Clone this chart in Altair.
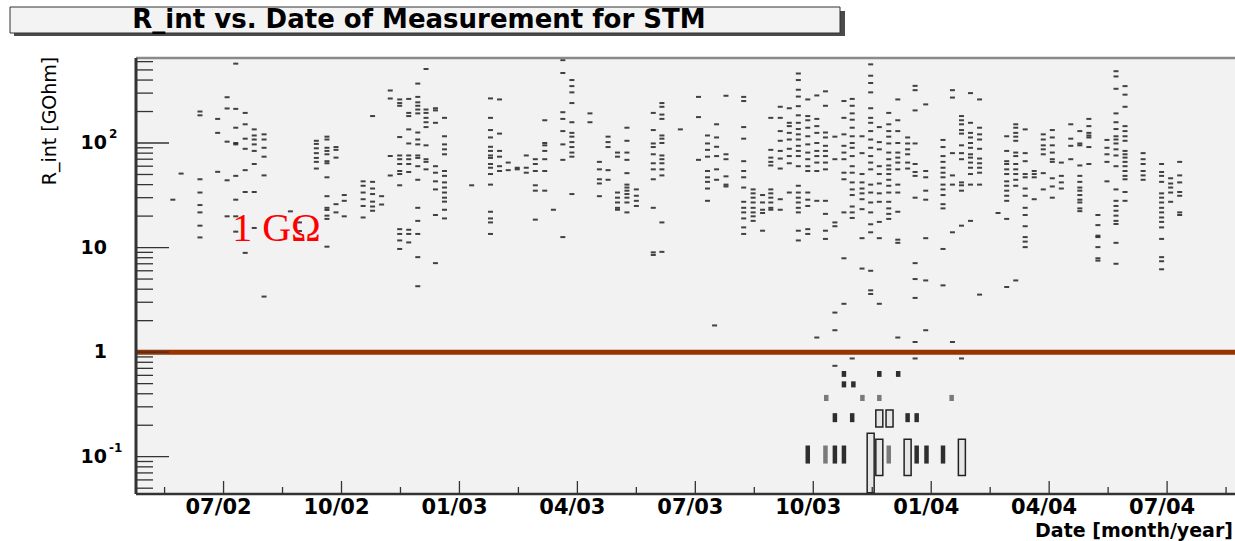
import altair as alt
import pandas as pd

# ---------------- data ----------------
# month index: 0 = Jan 2002 ; values in GOhm
col_month = [4.71, 4.92, 5.40, 5.85, 6.09, 6.31, 6.55, 6.78, 7.03, 7.70, 7.93, 8.36, 8.63, 8.86, 9.07,
             9.55, 9.79, 10.02, 10.24, 10.48, 10.71, 10.94, 11.15, 11.39, 11.62, 12.31, 12.79, 13.02,
             13.24, 13.47, 13.70, 13.93, 14.17, 14.39, 14.63, 14.86, 15.32, 15.56, 15.78, 16.02, 16.26,
             16.50, 16.93, 17.15, 17.62, 18.08, 18.31, 18.49, 18.54, 18.78, 19.23, 19.47, 19.71, 19.92,
             20.16, 20.39, 20.62, 20.86, 21.09, 21.31, 21.55, 21.78, 21.99, 22.24, 22.46, 22.68, 22.92,
             23.15, 23.40, 23.59, 23.86, 24.30, 24.54, 24.77, 25.00, 25.23, 25.70, 25.92, 26.15, 26.39,
             26.62, 26.85, 27.08, 27.31, 27.55, 27.78, 28.01, 28.24, 28.47, 28.70, 28.93, 29.39, 29.86,
             30.09, 30.32]
col_values = [
    [28.7], [51],
    [200, 184, 45, 33.6, 25.5, 21.7, 16.2, 12.5],
    [170, 125, 53],
    [274, 214, 103, 44, 19.9],
    [574, 212, 140, 100, 97, 48.5, 28.7, 19.9, 14.2],
    [194, 151, 110, 88, 55, 34, 8.9],
    [135, 118, 108, 97, 84, 63, 34, 15.4],
    [121, 108, 90, 74, 49, 3.4],
    [22.2],
    [17.4, 14.4],
    [105, 98, 89, 80, 72, 66, 57],
    [115, 108, 90, 84, 78, 67, 64, 47, 31, 24, 22.9, 20.2, 18.8, 10.2],
    [91.5, 86, 72.5, 26, 21.7],
    [31.8, 28, 19.9],
    [43, 39, 33.6, 29, 25, 19.4],
    [181, 42.5, 36.7, 32.5, 27.5, 24.7, 22.5],
    [31, 25.8],
    [318, 267, 75, 49],
    [261, 241, 227, 114, 76, 70, 63, 54, 50.5, 39.4, 15, 13.5, 11.7, 9.7],
    [264, 194, 181, 135, 99, 76, 70, 63, 52.8, 14.8, 13.5, 11.2],
    [370, 276, 245, 227, 209, 192, 126, 108, 97, 76, 72, 60, 44.5, 24, 18, 13.5, 8.1, 4.27],
    [510, 209, 194, 174, 158, 142, 95, 70, 66, 56],
    [215, 205, 156, 60, 52, 43, 36, 20.5, 7.1],
    [174, 116, 97, 87, 78, 54, 48.5, 42, 37.5, 33.6, 30, 27.5, 23, 19],
    [39.4],
    [267, 174, 133, 113, 92, 84, 76, 72, 63, 58, 50.5, 40, 22, 19, 17.4, 13.5],
    [261, 123, 84, 74, 60, 54],
    [65, 55],
    [58, 56],
    [76, 58, 52],
    [70, 63, 54, 39.4, 35, 18.5],
    [165, 100, 95, 84, 70, 54, 35],
    [23],
    [620, 467, 197, 170, 130, 97, 69, 12.6],
    [400, 350, 305, 241, 158, 125, 115, 102, 91.5, 81, 74, 32.5],
    [192, 158],
    [66, 56, 45, 41, 31],
    [115, 102, 91.5, 55, 44.5],
    [81, 74, 33.6, 30, 27, 24, 23],
    [140, 105, 81, 69, 51.5, 40, 37.5, 35, 32.5, 30, 27, 21.7],
    [36, 31.3, 28, 25],
    [194, 133, 99, 91.5, 78, 64, 56, 45, 24, 9, 8.5],
    [241, 222, 187, 170, 118, 110, 100, 76, 70, 64, 56, 49, 17.4, 9.1],
    [135],
    [276, 177, 69],
    [118, 99, 86, 74, 54, 47, 42.5, 36.7, 28],
    [1.8],
    [151, 113, 92, 75, 56, 44.5],
    [283, 78, 70, 48, 40, 38.4],
    [276, 252, 142, 110, 67, 54, 47, 37.5, 27.4, 24, 21.7, 19, 15.6, 13.5],
    [36, 33, 30, 27, 24, 21.7, 19.9, 18],
    [31.8, 27, 23, 21.4, 14.5],
    [174, 86, 72.5, 66, 61, 36, 33, 30, 27, 24, 23],
    [222, 174, 130, 105, 84, 71, 57, 29, 23],
    [215, 156, 145, 125, 108, 88, 75, 64, 33.6],
    [462, 400, 323, 278, 225, 184, 156, 136, 121, 108, 94, 84, 75, 60, 39, 33.6, 30, 27, 24, 21.7, 14.5, 11.7],
    [261, 181, 165, 140, 116, 97, 81, 70, 60, 54, 33.6, 28.7, 25, 15, 13.5],
    [285, 170, 145, 125, 100, 84, 75, 65, 54, 28, 1.38],
    [312, 227, 126, 113, 94, 84, 75, 65, 56, 28, 21, 14.5, 12.1],
    [115, 70, 17.4, 16, 2.39, 1.62, 0.74],
    [252, 174, 121, 94, 81, 70, 52, 45, 21.7, 7.9, 2.9],
    [264, 227, 192, 167, 140, 116, 100, 90, 75, 60, 52, 42, 36, 31.8, 24.7, 21.7, 19.2, 0.87],
    [116, 80, 50.5, 42, 36.7, 33, 29, 23.3, 12.3, 6.3],
    [565, 440, 375, 305, 215, 174, 156, 130, 108, 90, 75, 65, 56, 40, 33.6, 27, 21.7, 16.7, 14, 6.0, 3.9, 3.6],
    [142, 102, 87, 60, 50.5, 41, 33, 27.4, 17.6, 12.3, 2.9],
    [194, 151, 130, 115, 99, 81, 70, 61, 56, 50.5, 44.5, 39, 33.6, 27.4, 23.7, 21, 18.8],
    [261, 165, 130, 100, 81, 72.5, 65, 56, 40, 33.6, 22, 11.9, 11.1, 1.38],
    [113, 99, 87, 78, 65, 57],
    [352, 320, 205, 99, 63, 52.8, 48.5, 30, 7.1, 5.0, 3.3, 1.25, 0.87],
    [234, 54, 47, 35, 28.7, 12.3, 4.85, 1.62],
    [107, 91.5, 75, 66, 58, 52, 47, 40, 36, 31.8, 26, 23.7, 9.7, 4.35],
    [320, 272, 80, 49, 40, 14, 1.25],
    [181, 165, 151, 133, 123, 95, 80, 70, 42, 39.4, 35, 16.2, 0.87],
    [300, 156, 125, 113, 100, 90, 78, 72.5, 65, 58, 50.5, 40, 18],
    [261, 140, 121, 108, 88, 71, 64, 58, 52, 40, 3.55],
    [21.4],
    [116, 84, 67, 63, 56, 50.5, 43, 39, 35, 31.3, 28, 18.8, 4.2],
    [151, 140, 125, 115, 105, 81, 75, 63, 56, 50.5, 44.5, 39, 4.85],
    [135, 80, 67, 50.5, 47, 36.7, 31.3, 24, 20.5, 16, 12.6, 11.4, 10.1],
    [54, 50.5, 47, 29],
    [121, 108, 95, 87, 78, 51.5, 36],
    [133, 113, 95, 81, 70, 66, 46, 38.4, 30],
    [65, 48.5, 42, 36.7],
    [151, 110, 94, 70],
    [130, 99, 95, 61, 48.5, 42.5, 37.5, 35, 31.8, 28.7, 27, 23.7, 22.3],
    [170, 145, 125, 118, 113, 91.5, 63],
    [20.5, 16.4, 13, 12.6, 10.1, 7.9, 7.5],
    [107, 90, 78, 66, 43],
    [486, 433, 330, 192, 158, 136, 116, 108, 99, 87, 76, 60, 36, 28, 25, 22.5, 20.2, 18, 16.8, 11.1, 7.0],
    [350, 290, 222, 145, 130, 116, 105, 84, 78, 72.5, 66, 60, 54, 48.5, 45, 34, 28],
    [80, 70, 63, 54, 49, 44.5],
    [63, 52.8, 48.5, 42.5, 33, 30, 27, 24, 21.7, 19.4, 17.6, 15.6, 12.1, 8.1, 7.4, 6.2],
    [46, 41, 37.5, 33.6, 27.4],
    [66, 49, 42, 34, 31.3, 21.7, 20.5],
]

# low-resistance histogram boxes: month, box low / high edge (GOhm), entries
box_month = [20.86, 21.31, 21.55, 21.78, 22.46, 22.68, 22.92, 23.40, 23.63, 23.88, 24.30, 24.78,
             21.55, 21.99, 22.68, 22.94, 23.40, 23.63,
             21.33, 22.25, 22.68, 24.52,
             21.78, 22.02,
             21.78, 22.68, 23.16]
box_lo = [0.086, 0.086, 0.086, 0.086, 0.0453, 0.066, 0.086, 0.066, 0.086, 0.086, 0.086, 0.066,
          0.214, 0.214, 0.192, 0.192, 0.214, 0.214,
          0.341, 0.341, 0.341, 0.341,
          0.46, 0.46,
          0.58, 0.58, 0.58]
box_hi = [0.128, 0.128, 0.128, 0.128, 0.168, 0.147, 0.128, 0.147, 0.128, 0.128, 0.128, 0.147,
          0.261, 0.261, 0.279, 0.279, 0.261, 0.261,
          0.39, 0.39, 0.39, 0.39,
          0.526, 0.526,
          0.66, 0.66, 0.66]
box_n = [1, 2, 1, 1, 3, 3, 2, 3, 1, 1, 1, 3,
         1, 1, 3, 3, 1, 1,
         2, 2, 2, 2,
         1, 1,
         1, 1, 1]

x_major = [6, 9, 12, 15, 18, 21, 24, 27, 30]
x_major_labels = ["07/02", "10/02", "01/03", "04/03", "07/03", "10/03", "01/04", "04/04", "07/04"]
x_minor = [4.5, 7.5, 10.5, 13.5, 16.5, 19.5, 22.5, 25.5, 28.5, 31.5]
y_major = [0.1, 1, 10, 100]
y_label_base = ["10", "1", "10", "10"]
y_label_sup = ["-1", "", "", "2"]
y_minor = [0.05, 0.06, 0.07, 0.08, 0.09, 0.2, 0.3, 0.4, 0.5, 0.6, 0.7, 0.8, 0.9,
           2, 3, 4, 5, 6, 7, 8, 9, 20, 30, 40, 50, 60, 70, 80, 90, 200, 300, 400, 500, 600]
threshold = [1.0]
note_month = [6.22]
note_value = [11.6]
note_text = ["1 GΩ"]

title_text = "R_int vs. Date of Measurement for STM"
x_title = "Date [month/year]"
y_title = "R_int [GOhm]"

# ---------------- build tables ----------------
rows = []
for m, vals in zip(col_month, col_values):
    for v in vals:
        rows.append({"m": m, "r": v})
pts = pd.DataFrame(rows)
boxes = pd.DataFrame({"m": box_month, "lo": box_lo, "hi": box_hi, "n": box_n})
xmaj = pd.DataFrame({"m": x_major, "lab": x_major_labels})
xmin = pd.DataFrame({"m": x_minor})
ymaj = pd.DataFrame({"v": y_major, "base": y_label_base, "sup": y_label_sup})
ymin = pd.DataFrame({"v": y_minor})
thr = pd.DataFrame({"v": threshold})
note = pd.DataFrame({"m": note_month, "v": note_value, "t": note_text})

W, H = 1099, 436
XS = alt.Scale(domain=[3.9, 31.6], nice=False, zero=False)
YS = alt.Scale(type="log", domain=[0.044, 650], nice=False)


def X(f="m"):
    return alt.X(f"{f}:Q", scale=XS, axis=None)


def Y(f):
    return alt.Y(f"{f}:Q", scale=YS, axis=None)


one = alt.Data(values=[{}])
BOLD = "DejaVu Sans"

dashes = alt.Chart(pts).mark_tick(orient="horizontal", size=5, thickness=2,
                                  color="#1a1a1a", opacity=0.82).encode(x=X(), y=Y("r"))

filled_boxes = alt.Chart(boxes).transform_filter("datum.n < 3").mark_bar(size=4.5).encode(
    x=X(), y=Y("lo"), y2="hi:Q",
    color=alt.Color("n:O", scale=alt.Scale(domain=[1, 2], range=["#2e2e2e", "#7a7a7a"]), legend=None))
open_boxes = alt.Chart(boxes).transform_filter("datum.n >= 3").mark_bar(
    size=7, fill="#e6e6e6", stroke="#222222", strokeWidth=1.5).encode(x=X(), y=Y("lo"), y2="hi:Q")

red_line = alt.Chart(thr).mark_rule(color="#993300", strokeWidth=5).encode(
    y=Y("v"), x=alt.value(0), x2=alt.value(W))

ytick_major = alt.Chart(ymaj).mark_rule(color="#333333", strokeWidth=1.3).encode(
    y=Y("v"), x=alt.value(0), x2=alt.value(33))
ytick_minor = alt.Chart(ymin).mark_rule(color="#333333", strokeWidth=1.3).encode(
    y=Y("v"), x=alt.value(0), x2=alt.value(17))
xtick_major = alt.Chart(xmaj).mark_rule(color="#333333", strokeWidth=1.3).encode(
    x=X(), y=alt.value(H), y2=alt.value(H - 13))
xtick_minor = alt.Chart(xmin).mark_rule(color="#333333", strokeWidth=1.3).encode(
    x=X(), y=alt.value(H), y2=alt.value(H - 7))

frame_left = alt.Chart(one).mark_rule(color="#333333", strokeWidth=3).encode(
    x=alt.value(0), y=alt.value(0), y2=alt.value(H))
frame_bottom = alt.Chart(one).mark_rule(color="#333333", strokeWidth=2.5).encode(
    x=alt.value(0), x2=alt.value(W), y=alt.value(H))
frame_top = alt.Chart(one).mark_rule(color="#8a8a8a", strokeWidth=2.5).encode(
    x=alt.value(0), x2=alt.value(W), y=alt.value(0))

xlabels = alt.Chart(xmaj).mark_text(font=BOLD, fontWeight="bold", fontSize=21, align="center",
                                    baseline="alphabetic", dx=-5, color="#000000").encode(
    x=X(), y=alt.value(H + 20), text="lab:N")
ylabels = alt.Chart(ymaj).mark_text(font=BOLD, fontWeight="bold", fontSize=19, align="right",
                                    baseline="middle", color="#000000").encode(
    y=Y("v"), x=alt.value(-29), text="base:N")
ysup = alt.Chart(ymaj).mark_text(font=BOLD, fontWeight="bold", fontSize=12, align="left",
                                 baseline="middle", dy=-9, color="#000000").encode(
    y=Y("v"), x=alt.value(-27), text="sup:N")

note_txt = alt.Chart(note).mark_text(font="Liberation Serif", fontSize=40, align="left",
                                     baseline="alphabetic", color="#ff0000").encode(
    x=X(), y=Y("v"), text="t:N")

shadow = alt.Chart(one).mark_rect(color="#4a4a4a").encode(
    x=alt.value(-122), x2=alt.value(709), y=alt.value(-47), y2=alt.value(-22))
tbox = alt.Chart(one).mark_rect(fill="#f3f3f3", stroke="#333333", strokeWidth=1).encode(
    x=alt.value(-126), x2=alt.value(704), y=alt.value(-51), y2=alt.value(-25))
ttext = alt.Chart(pd.DataFrame({"t": [title_text]})).mark_text(
    font=BOLD, fontWeight="bold", fontSize=26, align="center", baseline="alphabetic",
    color="#000000").encode(x=alt.value(283), y=alt.value(-30), text="t:N")

xt = alt.Chart(pd.DataFrame({"t": [x_title]})).mark_text(
    font=BOLD, fontWeight="bold", fontSize=19, align="right", baseline="alphabetic",
    color="#000000").encode(x=alt.value(W - 2), y=alt.value(H + 43), text="t:N")
yt = alt.Chart(pd.DataFrame({"t": [y_title]})).mark_text(
    font=BOLD, fontSize=19, align="center", baseline="middle", angle=270,
    color="#000000").encode(x=alt.value(-86), y=alt.value(63), text="t:N")

chart = alt.layer(
    red_line, dashes, filled_boxes, open_boxes,
    ytick_major, ytick_minor, xtick_major, xtick_minor,
    frame_top, frame_bottom, frame_left,
    xlabels, ylabels, ysup, note_txt,
    shadow, tbox, ttext, xt, yt,
).properties(
    width=W, height=H, autosize="none",
    padding={"left": 136, "top": 58, "right": 0, "bottom": 47},
    background="#ffffff",
).configure_view(fill="#f2f2f2", stroke=None)

chart.save("out.html", embed_options={"renderer": "svg", "actions": False})
